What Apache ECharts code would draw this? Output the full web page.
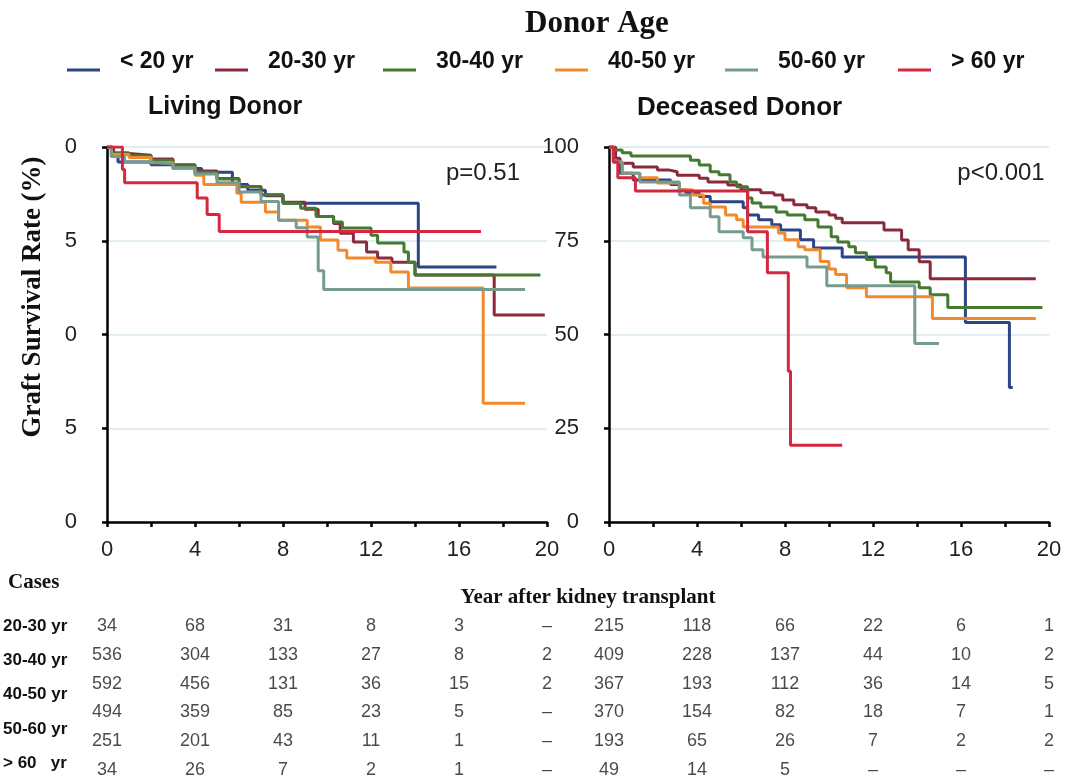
<!DOCTYPE html>
<html><head><meta charset="utf-8">
<script src="https://cdn.jsdelivr.net/npm/echarts@6/dist/echarts.min.js"></script>
<style>html,body{margin:0;padding:0;background:#fff}#c{width:1068px;height:779px}</style>
</head><body><div id="c"></div>
<script>
// ---------- data ----------
const groups = ['< 20 yr', '20-30 yr', '30-40 yr', '40-50 yr', '50-60 yr', '> 60 yr'];
const groupColors = ['#2b4585', '#8c2a3d', '#437a2f', '#f28a2c', '#779c8f', '#d3283f'];

const yTicks = [0, 25, 50, 75, 100];
const xYears = [0, 4, 8, 12, 16, 20];

// Living donor Kaplan-Meier steps [year, survival %]
const living_lt20 = [[0,100],[0.2,97.5],[0.5,96],[2,95.3],[3,94.3],[4.3,93.3],[5.7,90],[6.4,88.5],[7.2,87],[8,85],[14.15,68],[17.7,68]];
const living_20_30 = [[0,100],[0.3,98.3],[1,97.8],[2,96.8],[3,95.3],[4,93.6],[5,91.6],[6,89.4],[7,87.2],[8,85.3],[9,83.4],[9.6,81.5],[10.3,79.6],[10.6,77],[11.2,74.7],[11.8,72],[12.3,70.4],[12.95,69.3],[14.0,65.9],[17.6,55.2],[19.9,55.2]];
const living_30_40 = [[0,100],[0.2,98.5],[1,97.7],[2,96.5],[3,95],[4,93.3],[5,91.5],[6,89.5],[7,87.3],[8,85],[8.8,83.7],[9.5,81.5],[10.3,80],[10.7,78.4],[12,76.5],[12.3,74.4],[13.5,72],[13.7,69.3],[14.0,65.9],[19.7,65.9]];
const living_40_50 = [[0,100],[0.2,98],[1,97.2],[2,95.8],[3,94.3],[4,92.5],[4.4,90],[5.9,87.7],[6.1,85.3],[7.2,82.7],[7.8,80.5],[9.1,78.7],[9.7,75.2],[10.5,72.5],[10.9,70.4],[12.2,69.3],[12.9,66.7],[13.7,62.4],[17.1,31.7],[19.0,31.7]];
const living_50_60 = [[0,100],[0.2,97.5],[0.8,96],[2,95.5],[3,94.5],[4,92.8],[5,90.5],[6,88],[7,85.5],[7.8,80.5],[8.6,78.5],[9.1,76],[9.6,67],[9.85,62],[19.0,62]];
const living_gt60 = [[0,100],[0.7,94],[0.8,90.5],[4.1,86.4],[4.55,82],[5.1,77.5],[17,77.5]];

// Deceased donor Kaplan-Meier steps [year, survival %]
const deceased_lt20 = [[0,100],[0.2,96],[0.5,93],[1.1,91.2],[2.8,90],[3.2,88.6],[3.5,87.8],[4.1,86.8],[4.6,85.4],[6.1,83.8],[6.3,81.9],[6.8,80.6],[7.4,79.3],[7.8,77.9],[8.7,75.3],[9.3,73.1],[10.6,70.7],[16.2,53.2],[18.2,35.9],[18.35,35.9]];
const deceased_20_30 = [[0,100],[0.3,97],[0.5,95.7],[1.1,94.7],[2.2,93.9],[2.7,93.4],[3.1,92.5],[4.1,91.7],[4.5,90.7],[5.4,89.9],[6,88.6],[6.9,87.8],[7.5,87.2],[7.9,85.9],[8.4,84.6],[9,83.8],[9.4,82.7],[10,81.9],[10.3,81],[10.6,79.8],[12.5,77.9],[13.3,75.2],[13.6,72.6],[14.1,69.4],[14.6,64.9],[19.4,64.9]];
const deceased_30_40 = [[0,100],[0.2,99.2],[0.6,98.5],[1,97.6],[3.7,96.5],[4.1,95.2],[4.6,93.4],[5,92.6],[5.5,90.7],[5.8,89.4],[6.3,86.4],[6.5,85.1],[6.9,84],[7.6,82.7],[8.1,81.9],[8.9,80.6],[9.5,78.7],[10.1,76.1],[10.4,74.7],[10.9,73.4],[11.2,71.8],[11.7,70],[12.1,68],[12.6,66.5],[12.8,64],[14.1,62.5],[14.6,60.6],[15.4,57.2],[19.7,57.2]];
const deceased_40_50 = [[0,100],[0.2,96],[0.6,93],[1.4,91.8],[2.2,90.4],[3.2,88.6],[3.8,87.2],[4.3,85],[4.6,84],[5.3,81.9],[5.8,80.6],[6.1,78.7],[7.7,77.1],[8,75.3],[8.6,73.4],[8.9,72.6],[9.6,69.5],[10,67.5],[10.3,66],[10.8,62.5],[11.7,60.1],[14.7,54.3],[19.4,54.3]];
const deceased_50_60 = [[0,100],[0.2,96],[0.6,93],[1.4,90.7],[3.2,87.2],[3.7,83.8],[4.6,81.4],[5.0,77.4],[6.1,75.8],[6.5,72.6],[7.0,70.7],[9.0,68],[9.9,63],[13.9,47.6],[15.0,47.6]];
const deceased_gt60 = [[0,100],[0.2,96],[0.4,91.8],[1.2,88.3],[6.3,77.4],[7.2,66.5],[8.15,40.2],[8.25,20.5],[10.6,20.5]];

// Number of cases (rows in order as printed)
const caseRowLabels = ['20-30 yr', '30-40 yr', '40-50 yr', '50-60 yr', '> 60   yr'];
const livingCases = [
  ['34','68','31','8','3','–'],
  ['536','304','133','27','8','2'],
  ['592','456','131','36','15','2'],
  ['494','359','85','23','5','–'],
  ['251','201','43','11','1','–'],
  ['34','26','7','2','1','–']
];
const deceasedCases = [
  ['215','118','66','22','6','1'],
  ['409','228','137','44','10','2'],
  ['367','193','112','36','14','5'],
  ['370','154','82','18','7','1'],
  ['193','65','26','7','2','2'],
  ['49','14','5','–','–','–']
];

// ---------- layout / style ----------
const SANS = 'Liberation Sans, Arial, Helvetica, sans-serif';
const SERIF = 'Liberation Serif, Times New Roman, serif';
const legendLefts = [62, 210, 378, 550, 720, 893];
const panels = [
  {left: 107, series: [living_lt20, living_20_30, living_30_40, living_40_50, living_50_60, living_gt60], cases: livingCases},
  {left: 609, series: [deceased_lt20, deceased_20_30, deceased_30_40, deceased_40_50, deceased_50_60, deceased_gt60], cases: deceasedCases}
];
const PW = 440, PTOP = 147, PH = 375;

const chart = echarts.init(document.getElementById('c'), null, {renderer: 'canvas'});

const grids = [], xAxes = [], yAxes = [], series = [];
panels.forEach((p, pi) => {
  grids.push({left: p.left, top: PTOP, width: PW, height: PH, containLabel: false, outerBoundsMode: 'none'});
  xAxes.push({
    type: 'value', gridIndex: pi, min: 0, max: 20, interval: 2,
    axisLine: {show: true, onZero: false, lineStyle: {color: '#000', width: 2.5}},
    axisTick: {show: true, length: 5, inside: false, lineStyle: {color: '#000', width: 2.5}},
    axisLabel: {show: true, margin: 17, fontSize: 22, color: '#222', fontFamily: SANS,
      showMinLabel: true, showMaxLabel: true,
      formatter: v => (xYears.indexOf(v) >= 0 ? String(v) : '')},
    splitLine: {show: false}
  });
  yAxes.push({
    type: 'value', gridIndex: pi, min: 0, max: 100, interval: 25,
    axisLine: {show: true, lineStyle: {color: '#000', width: 2.5}},
    axisTick: {show: true, length: 5, lineStyle: {color: '#000', width: 2.5}},
    axisLabel: {show: true, margin: 30, fontSize: 22, color: '#222', fontFamily: SANS, showMinLabel: true, showMaxLabel: true},
    splitLine: {show: true, lineStyle: {color: '#d6e7ef', width: 1.5}}
  });
  p.series.forEach((d, gi) => {
    series.push({
      type: 'line', name: groups[gi], xAxisIndex: pi, yAxisIndex: pi,
      data: d, step: 'end', showSymbol: false, symbol: 'none',
      color: groupColors[gi],
      lineStyle: {width: 3, color: groupColors[gi]},
      z: 2 + gi * 0.01, emphasis: {disabled: true}
    });
  });
});

// cases tables: two more grids sharing the panels' x scales
panels.forEach((p, pi) => {
  const gi = 2 + pi;
  grids.push({left: p.left, top: 626, width: PW, height: 144, containLabel: false, outerBoundsMode: 'none'});
  xAxes.push({type: 'value', gridIndex: gi, min: 0, max: 20, show: false});
  yAxes.push({type: 'value', gridIndex: gi, min: 0, max: 5, inverse: true, show: false});
  const data = [];
  p.cases.forEach((row, ri) => row.forEach((txt, ci) => data.push({value: [xYears[ci], ri], name: txt})));
  series.push({
    type: 'scatter', xAxisIndex: gi, yAxisIndex: gi, data: data,
    symbolSize: 1, itemStyle: {color: 'rgba(0,0,0,0)'},
    label: {show: true, position: 'inside', formatter: '{b}', fontSize: 18, color: '#1a1a1a', fontFamily: SANS},
    emphasis: {disabled: true}, silent: true
  });
});

const legendIcon = 'path://M48,0 M0,17 L33,17 L33,20 L0,20 Z';
const legends = groups.map((g, i) => ({
  data: [g], left: legendLefts[i], top: 45, orient: 'horizontal',
  icon: legendIcon, itemWidth: 48, itemHeight: 20,
  textStyle: {fontSize: 23, fontWeight: 'bold', color: '#111', fontFamily: SANS}
}));

const graphics = [
  {type: 'rect', shape: {x: 0, y: 130, width: 64, height: 410}, style: {fill: '#fff'}, z: 100},
  {type: 'text', x: 33, y: 297, rotation: Math.PI / 2, z: 101,
    style: {text: 'Graft Survival Rate (%)', fontSize: 27, fontWeight: 'bold', fontFamily: SERIF, fill: '#111', align: 'center', verticalAlign: 'middle'}},
  {type: 'text', x: 483, y: 173, z: 10, style: {text: 'p=0.51', fontSize: 24, fontFamily: SANS, fill: '#222', align: 'center', verticalAlign: 'middle'}},
  {type: 'text', x: 1001, y: 173, z: 10, style: {text: 'p<0.001', fontSize: 24, fontFamily: SANS, fill: '#222', align: 'center', verticalAlign: 'middle'}},
  {type: 'text', x: 8, y: 583, z: 10, style: {text: 'Cases', fontSize: 21, fontWeight: 'bold', fontFamily: SERIF, fill: '#111', align: 'left', verticalAlign: 'middle'}},
  {type: 'text', x: 588, y: 598, z: 10, style: {text: 'Year after kidney transplant', fontSize: 21, fontWeight: 'bold', fontFamily: SERIF, fill: '#111', align: 'center', verticalAlign: 'middle'}}
];
caseRowLabels.forEach((t, i) => {
  graphics.push({type: 'text', x: 3, y: 626 + i * 34.3, z: 10,
    style: {text: t, fontSize: 17, fontWeight: 'bold', fontFamily: SANS, fill: '#111', align: 'left', verticalAlign: 'middle'}});
});

chart.setOption({
  animation: false,
  backgroundColor: '#fff',
  title: [
    {text: 'Donor Age', left: 520, top: 3, textStyle: {fontSize: 31, fontWeight: 'bold', fontFamily: SERIF, color: '#111'}},
    {text: 'Living Donor', left: 143, top: 90, textStyle: {fontSize: 25, fontWeight: 'bold', fontFamily: SANS, color: '#111'}},
    {text: 'Deceased Donor', left: 632, top: 90, textStyle: {fontSize: 26, fontWeight: 'bold', fontFamily: SANS, color: '#111'}}
  ],
  legend: legends,
  grid: grids,
  xAxis: xAxes,
  yAxis: yAxes,
  series: series,
  graphic: graphics
});
</script>
</body></html>
